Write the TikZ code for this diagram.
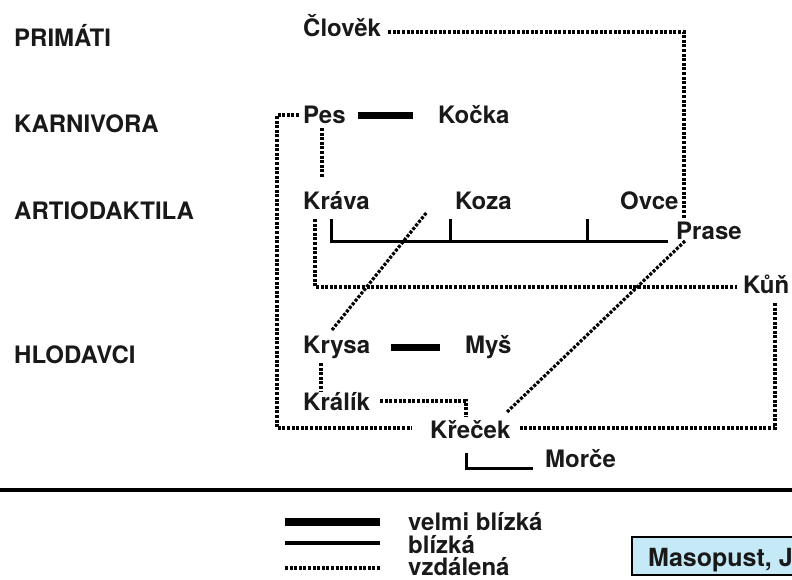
\documentclass[tikz,border=0pt]{standalone}
\usepackage{fontspec}
\setmainfont{TeX Gyre Heros}
\begin{document}
\begin{tikzpicture}[x=1pt,y=-1pt,
  lbl/.style={anchor=base west,inner sep=0pt,font=\fontsize{24}{28}\selectfont\bfseries,text=black!90},
  far/.style={line width=3.2pt,dash pattern=on 3pt off 1.6pt},
  near/.style={line width=3pt},
  vnear/.style={line width=7pt},
]
\useasboundingbox (0,0) rectangle (792,579);
\clip (0,0) rectangle (792,579);
% group labels
\node[lbl] (primati) at (14,46) {PRIMÁTI};
\node[lbl] (karnivora) at (14,132) {KARNIVORA};
\node[lbl] (artio) at (14,219) {ARTIODAKTILA};
\node[lbl] (hlodavci) at (14,363) {HLODAVCI};
% species
\node[lbl] (clovek) at (303,36) {Člověk};
\node[lbl] (pes) at (303,123) {Pes};
\node[lbl] (kocka) at (438,123) {Kočka};
\node[lbl] (krava) at (303,209) {Kráva};
\node[lbl] (koza) at (455,209) {Koza};
\node[lbl] (ovce) at (620,209) {Ovce};
\node[lbl] (prase) at (676,239) {Prase};
\node[lbl] (kun) at (743,293) {Kůň};
\node[lbl] (krysa) at (303,353) {Krysa};
\node[lbl] (mys) at (465,353) {Myš};
\node[lbl] (kralik) at (303,410) {Králík};
\node[lbl] (krecek) at (430,438) {Křeček};
\node[lbl] (morce) at (545,467) {Morče};
% connectors
\draw[far] ([xshift=7pt,yshift=4pt]clovek.base east) -| ([xshift=8pt,yshift=21pt]prase.base west);
\coordinate (bl) at (277,428);
\draw[far] ([xshift=-4pt,yshift=8pt]pes.base west) -| (bl) -- ([xshift=-18pt,yshift=10pt]krecek.base west);
\draw[vnear] ([xshift=12pt,yshift=8pt]pes.base east) -- ([xshift=-25pt,yshift=8pt]kocka.base west);
\draw[far] ([xshift=19pt,yshift=-5pt]pes.base west) -- ([xshift=19pt,yshift=31pt]krava.base west);
% artiodactyla bracket
\coordinate (t1) at ([xshift=28pt,yshift=-10pt]krava.base west);
\coordinate (t2) at ([xshift=-5pt,yshift=-10pt]koza.base west);
\coordinate (t3) at ([xshift=-33pt,yshift=-10pt]ovce.base west);
\coordinate (pe) at ([xshift=-8pt,yshift=-2pt]prase.base west);
\draw[near] (t1) |- (pe);
\draw[near] (t2) -- (t2 |- pe);
\draw[near] (t3) -- (t3 |- pe);
\draw[far] ([xshift=12pt,yshift=-10pt]krava.base west) |- ([xshift=-6pt,yshift=6pt]kun.base west);
\draw[far] ([xshift=29pt,yshift=23pt]krysa.base west) -- ([xshift=-28pt,yshift=-3pt]koza.base west);
\draw[far] ([xshift=9pt,yshift=-2pt]prase.base west) -- ([xshift=76pt,yshift=25pt]krecek.base west);
\draw[far] ([xshift=9pt,yshift=10pt]krecek.base east) -| ([xshift=32pt,yshift=-10pt]kun.base west);
\draw[vnear] ([xshift=21pt,yshift=6pt]krysa.base east) -- ([xshift=-25pt,yshift=6pt]mys.base west);
\draw[far] ([xshift=18pt,yshift=-10pt]krysa.base west) -- ([xshift=18pt,yshift=18pt]kralik.base west);
\draw[far] ([xshift=10pt,yshift=9pt]kralik.base east) -| ([xshift=36pt,yshift=21pt]krecek.base west);
\draw[near] ([xshift=36pt,yshift=-15pt]krecek.base west) |- ([xshift=-12pt,yshift=-1pt]morce.base west);
% separator
\draw[line width=4pt] (0,490) -- (792,490);
% legend
\node[lbl] (lg1) at (408,530) {velmi blízká};
\node[lbl] (lg2) at (408,553) {blízká};
\node[lbl] (lg3) at (408,575) {vzdálená};
\draw[line width=8pt] ([xshift=-123pt,yshift=8pt]lg1.base west) -- ([xshift=-28pt,yshift=8pt]lg1.base west);
\draw[line width=4pt] ([xshift=-123pt,yshift=10pt]lg2.base west) -- ([xshift=-28pt,yshift=10pt]lg2.base west);
\draw[far] ([xshift=-123pt,yshift=7pt]lg3.base west) -- ([xshift=-28pt,yshift=7pt]lg3.base west);
% author box
\draw[line width=2pt,fill={rgb,255:red,198;green,233;blue,248}] (632,537) rectangle (820,575);
\node[lbl,font=\fontsize{25}{28}\selectfont\bfseries] (maso) at (648,566) {Masopust, J};
\end{tikzpicture}
\end{document}
